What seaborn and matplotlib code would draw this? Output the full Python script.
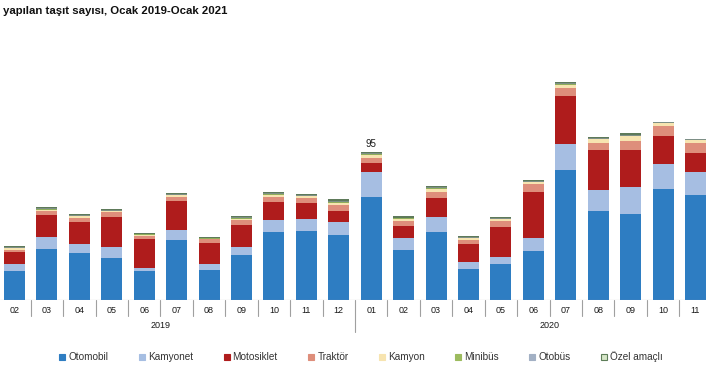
import numpy as np
import pandas as pd
import matplotlib
matplotlib.use("Agg")
import matplotlib.pyplot as plt
import matplotlib.transforms as mtransforms
from matplotlib.patches import Patch
import seaborn as sns

# ---------------- data (thousand vehicles) ----------------
years = ["2019"] * 11 + ["2020"] * 11
months = ["02", "03", "04", "05", "06", "07", "08", "09", "10", "11", "12",
          "01", "02", "03", "04", "05", "06", "07", "08", "09", "10", "11"]
otomobil = [18.6, 32.8, 30.2, 27.0, 18.6, 38.6, 19.3, 28.9, 43.7, 44.3, 41.8,
            66.2, 32.1, 43.7, 19.9, 23.1, 31.5, 83.6, 57.2, 55.3, 71.3, 67.5]
kamyonet = [4.4, 7.7, 5.8, 7.1, 2.2, 6.4, 3.8, 5.2, 7.7, 7.8, 8.5,
            16.1, 7.7, 9.6, 4.5, 4.5, 8.5, 16.7, 13.5, 17.3, 16.1, 14.8]
motosiklet = [8.1, 14.1, 14.3, 19.2, 18.4, 18.6, 13.5, 14.1, 11.8, 10.2, 6.9,
              5.7, 7.8, 12.3, 11.6, 19.3, 29.4, 31.1, 25.7, 23.8, 18.0, 12.2]
traktor = [1.2, 2.4, 2.6, 3.1, 2.1, 2.8, 2.4, 3.0, 3.0, 3.5, 3.9,
           3.3, 3.0, 3.8, 2.8, 4.0, 5.2, 4.7, 4.5, 5.8, 6.6, 6.4]
kamyon = [0.8, 1.0, 0.9, 0.7, 0.5, 0.9, 0.4, 1.0, 1.3, 0.8, 1.4,
          1.9, 1.5, 1.9, 0.9, 0.9, 1.2, 2.2, 2.3, 3.0, 1.6, 1.8]
minibus = [0.3, 0.4, 0.4, 0.3, 0.3, 0.4, 0.3, 0.5, 0.5, 0.4, 0.6,
           0.5, 0.5, 0.5, 0.3, 0.3, 0.3, 0.5, 0.4, 0.5, 0.3, 0.3]
otobus = [0.4, 0.5, 0.4, 0.4, 0.4, 0.4, 0.3, 0.5, 0.5, 0.3, 0.6,
          0.5, 0.4, 0.6, 0.3, 0.4, 0.4, 0.4, 0.4, 0.5, 0.2, 0.2]
ozel = [0.7, 0.8, 0.7, 0.7, 0.6, 0.7, 0.5, 0.8, 0.9, 0.6, 1.0,
        0.8, 0.8, 0.9, 0.6, 0.6, 0.6, 0.8, 0.8, 0.9, 0.1, 0.1]
series_names = ["Otomobil", "Kamyonet", "Motosiklet", "Traktör", "Kamyon",
                "Minibüs", "Otobüs", "Özel amaçlı"]
series_values = [otomobil, kamyonet, motosiklet, traktor, kamyon, minibus, otobus, ozel]
series_colors = ["#2E7DC2", "#A6BEE2", "#AF1C1C", "#DE8E7B", "#F7E4B0",
                 "#8FAE5A", "#7D8F86", "#5E7A5A"]
legend_face = ["#2E7DC2", "#A6BEE2", "#AF1C1C", "#DE8E7B", "#F7E4B0",
               "#9CBB5E", "#A2B0C4", "#D6E6C8"]
labelled_key = "2020-01"
labelled_text = "95"

# ---------------- figure ----------------
sns.set_theme(style="white")
plt.rcParams["font.family"] = ["Liberation Sans", "DejaVu Sans"]

W, H = 706, 374
fig = plt.figure(figsize=(W / 100, H / 100), dpi=100)
base_px = 300
ax_h = base_px
ax = fig.add_axes([0, (H - base_px) / H, 1, ax_h / H])

keys = [f"{y}-{m}" for y, m in zip(years, months)]
df = pd.DataFrame({"key": keys})
for name, vals in zip(series_names, series_values):
    df[name] = vals
n = len(keys)

bottom = np.zeros(n)
for name, color in zip(series_names, series_colors):
    sns.barplot(data=df, x="key", y=name, ax=ax, color=color, saturation=1,
                width=0.65, errorbar=None, bottom=bottom.copy(), linewidth=0)
    bottom += df[name].to_numpy()

px_per_unit = 1.556
ax.set_ylim(0, ax_h / px_per_unit)
ax.set_xlim(-0.447, 21.324)
for s in ax.spines.values():
    s.set_visible(False)
ax.set_yticks([])
ax.set_xlabel("")
ax.set_ylabel("")
ax.set_xticks(range(n))
ax.set_xticklabels(months)
ax.tick_params(axis="x", length=0, pad=4, labelsize=6.5, colors="#1a1a1a")

line_c = "#A0A0A0"
ax.axhline(0, color=line_c, lw=0.8)
trans = mtransforms.blended_transform_factory(ax.transData, ax.transAxes)
for i in range(-1, n):
    b = i + 0.5
    is_year = (0 <= i < n - 1) and years[i] != years[i + 1]
    depth = 32 if is_year else 16
    ax.plot([b, b], [0, -depth / ax_h], transform=trans, color=line_c, lw=0.8,
            clip_on=False)

# year labels centred on full 12-month groups
for yr in ["2019", "2020"]:
    idx = [i for i, y in enumerate(years) if y == yr]
    if yr == "2019":
        center = idx[-1] - 5.5
    else:
        center = idx[0] + 5.5
    ax.text(center, -26 / ax_h, yr, transform=trans, ha="center", va="center",
            fontsize=6.5, color="#1a1a1a")

# value label
ki = keys.index(labelled_key)
ax.annotate(labelled_text, xy=(ki, bottom[ki]), xytext=(0, 2),
            textcoords="offset points", ha="center", va="bottom", fontsize=7,
            color="#1a1a1a")

# title
fig.text(3 / W, 1 - 10.5 / H, "yapılan taşıt sayısı, Ocak 2019-Ocak 2021",
         ha="left", va="center", fontsize=8.2, fontweight="bold", color="#111111")

# legend
handles = [Patch(facecolor=fc, edgecolor=("#5D7D58" if nm == "Özel amaçlı" else fc),
                 linewidth=0.8) for nm, fc in zip(series_names, legend_face)]
fig.legend(handles, series_names, loc="center", bbox_to_anchor=(361 / W, 1 - 357 / H),
           ncol=8, frameon=False, fontsize=7.2, handlelength=0.6, handleheight=0.6,
           handletextpad=0.3, columnspacing=3.05, labelcolor="#333333")

fig.savefig("out.png", dpi=100)
